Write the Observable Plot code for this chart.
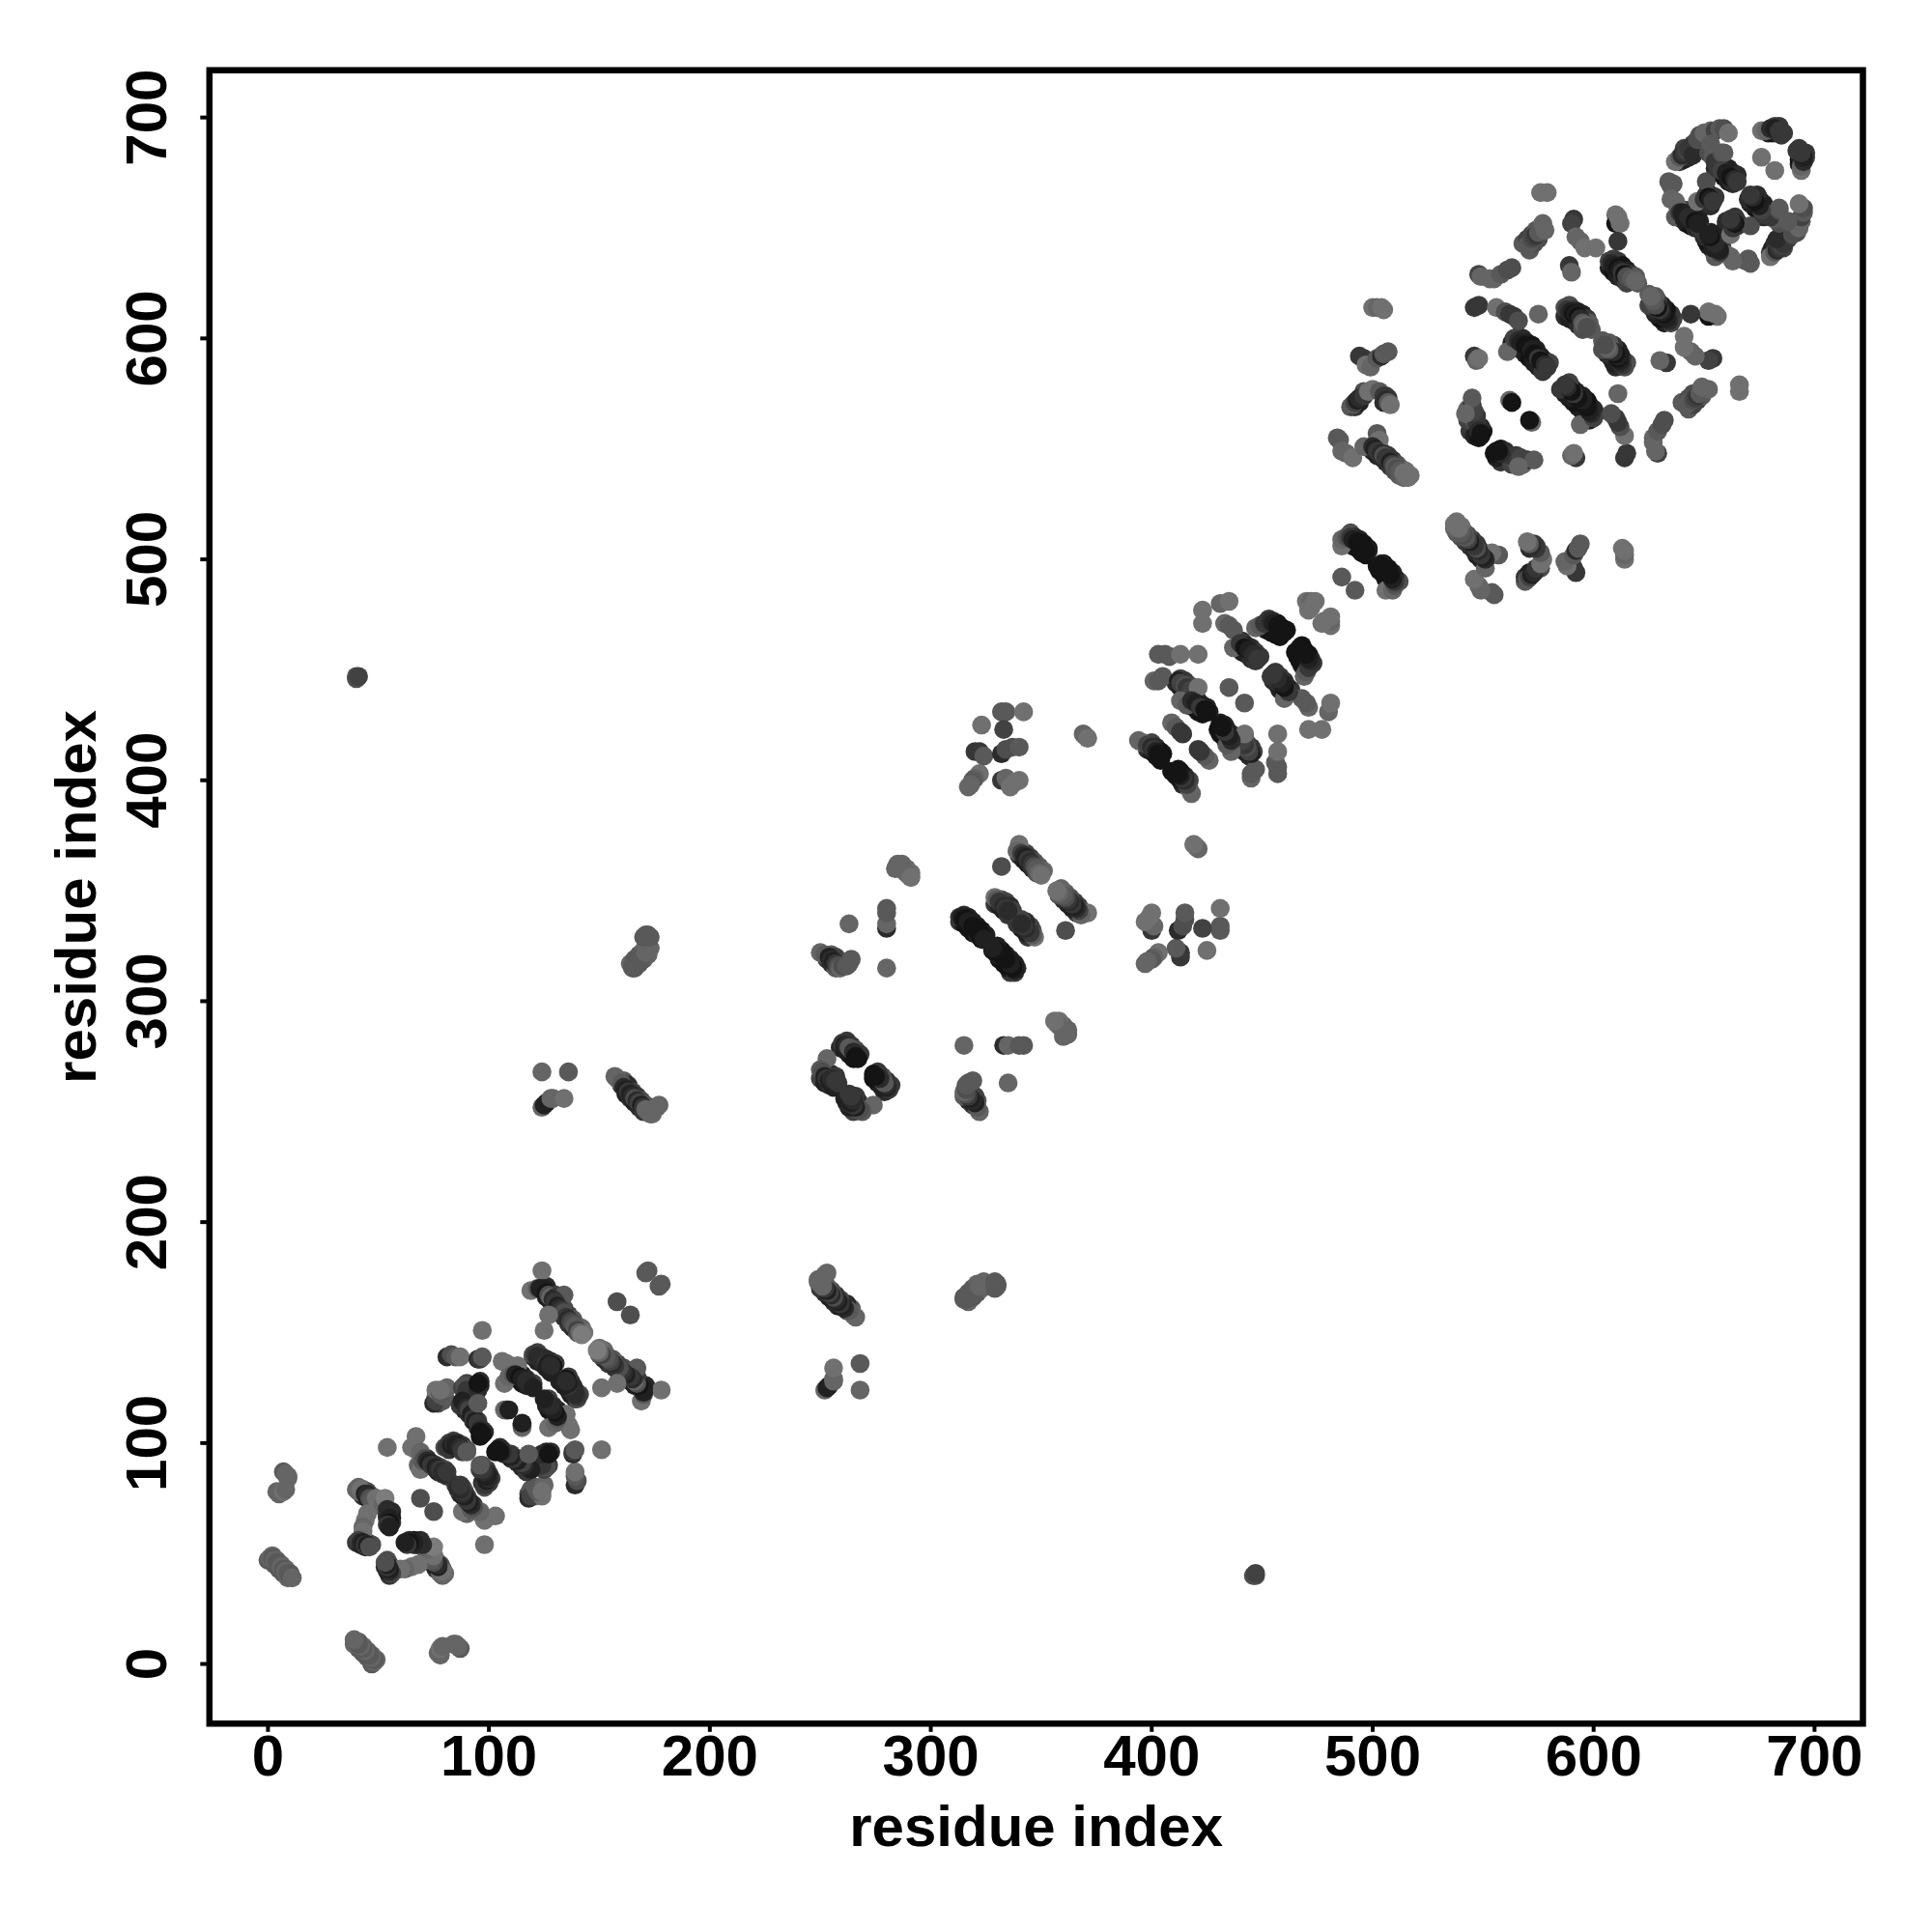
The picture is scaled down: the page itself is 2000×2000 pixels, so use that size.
<!DOCTYPE html>
<html>
<head>
<meta charset="utf-8">
<script src="https://cdn.jsdelivr.net/npm/d3@7"></script>
<script src="https://cdn.jsdelivr.net/npm/@observablehq/plot@0.6"></script>
<style>html,body{margin:0;padding:0;background:#fff}svg{display:block}</style>
</head>
<body>
<div id="chart"></div>
<script>
// Contacts as [residue i, residue j, shade], i < j; 0 = darkest, 9 = lightest.
// Neighbouring parallel contacts that widen each strand are listed first so the strand cores lie over them.
const neighbours01 = [[2,49,7],[4,47,7],[6,45,7],[8,43,7],[10,41,6],[0,47,6],[3,45,6],[5,43,6],[7,41,6],[9,39,7],
 [41,80,7],[43,79,7],[45,78,5],[47,76,6],[43,76,3],[45,75,1],[53,70,5],[54,66,3],[56,69,2],[56,66,0],[56,64,2],[54,67,2],
 [40,55,3],[42,54,1],[44,53,2],[43,56,4],[45,55,3],[47,54,5],
 [71,91,3],[73,90,2],[75,89,1],[77,87,1],[79,86,3],[72,93,2],[74,91,2],[76,90,3],[78,89,4],[80,88,5],[81,85,3],
 [82,97,3],[84,98,1],[86,98,2],[88,96,4],[82,100,3],[84,101,4],[86,100,2],[88,99,3],[90,97,5]];
const neighbours02 = [[87,118,2],[89,115,1],[91,113,2],[93,110,1],[95,107,2],[96,103,0],[89,120,3],[91,117,3],[93,113,3],[95,110,4],[97,106,2],[98,105,2],
 [77,118,5],[79,119,6],[76,121,8],[90,127,4],[93,125,1],[94,126,0],[96,128,2],[96,126,1],
 [111,130,1],[113,129,1],[115,127,0],[117,126,1],[113,132,2],[115,131,1],[117,129,2],[119,127,3],[120,127,4],
 [120,139,2],[122,137,1],[124,136,1],[126,135,0],[128,134,0],[122,141,4],[124,139,3],[126,138,2],[128,137,2],[130,136,3],
 [124,169,1],[126,166,1],[128,164,1],[130,162,2],[132,160,1],[134,157,2],[136,154,3],[138,152,2],[140,150,6],[126,171,2],[128,168,2],[130,167,4],[132,163,3],[134,161,5],[136,158,4],[138,156,6],[140,153,5],[142,152,7],[143,150,8]];
const neighbours03 = [[160,262,2],[162,258,1],[164,256,2],[166,254,1],[168,252,2],[170,250,3],[161,264,6],[163,262,2],[165,259,4],[167,257,3],[169,255,5],[171,253,6],
 [166,315,6],[168,317,6],[170,319,6],[172,321,7],[164,317,7],[166,319,6],[168,321,6],[170,323,7],
 [250,265,4],[252,263,1],[254,262,2],[256,261,1],[253,267,3],[255,267,2],[257,266,3],[258,263,3],
 [259,279,2],[261,278,1],[263,276,1],[265,274,0],[262,282,3],[264,280,3],[266,278,5],[268,276,3],
 [253,319,3],[255,317,2],[257,315,6],[255,321,6],[257,320,4],[287,362,7],[289,360,7],[291,358,8],[284,360,7]];
const neighbours04 = [[340,366,3],[342,364,1],[344,362,1],[346,360,2],[348,358,5],[343,367,4],[345,365,3],[347,363,5],[349,361,6],[351,359,7],
 [329,344,3],[331,343,1],[333,341,1],[335,339,3],[332,346,5],[334,345,4],[336,343,2],[337,341,4],
 [313,336,3],[315,335,0],[317,333,0],[319,331,0],[321,330,1],[323,328,0],[315,339,2],[317,338,1],[319,336,1],[321,334,1],[323,332,0],[325,330,1],
 [411,444,2],[413,442,1],[415,441,2],[417,440,3],[413,446,4],[415,445,3],[417,443,4],[419,442,5],
 [417,434,2],[419,433,0],[421,431,0],[423,430,0],[419,437,3],[421,436,2],[423,434,1],[425,433,1],[426,431,1],
 [398,414,2],[400,413,1],[402,411,0],[404,409,0],[400,417,4],[402,415,2],[404,413,0],[405,412,0]];
const neighbours05 = [[439,460,2],[441,458,1],[443,457,1],[445,455,2],[447,454,3],[441,463,3],[443,461,1],[445,460,2],[447,458,3],[449,456,3],
 [450,470,3],[452,468,1],[454,467,0],[456,466,0],[458,465,0],[453,473,3],[455,472,2],[457,471,0],[459,469,0],[461,468,0],
 [500,549,2],[502,547,1],[504,546,2],[506,544,2],[508,542,3],[510,540,5],[512,538,6],[514,537,7],[501,552,4],[503,550,3],[505,548,4],[507,547,3],[509,545,3],[511,543,5],[513,541,6],[515,540,8],[517,538,8],
 [489,508,2],[491,506,0],[493,505,0],[495,503,0],[497,502,0],[490,512,5],[492,510,2],[494,509,1],[496,507,0],[498,505,0],[498,504,1],
 [490,569,6],[492,569,3],[494,571,1],[506,574,3],[507,573,3],[505,571,2],[496,576,5]];
const neighbours06 = [[544,558,3],[546,556,1],[548,555,0],[550,558,0],[549,560,2],[547,565,3],[543,563,4],[544,567,2],
 [563,598,1],[565,596,0],[567,595,0],[569,593,1],[571,591,0],[573,589,1],[575,587,1],[577,585,3],[566,601,3],[568,600,2],[570,598,1],[572,597,0],[574,595,1],[576,592,1],[578,590,1],[580,589,4],
 [587,610,2],[589,609,1],[591,608,1],[593,606,2],[595,604,5],[589,615,5],[591,613,3],[593,612,1],[595,611,1],[597,609,3],[598,607,6],[599,604,6],
 [607,632,1],[609,630,0],[611,628,1],[613,627,2],[615,625,4],[609,636,4],[611,635,3],[613,633,0],[615,631,1],[617,629,3],[619,628,6],[620,625,6],
 [568,643,6],[570,645,4],[572,647,4],[574,649,6],[571,640,6],[573,643,5],[575,645,5]];
const neighbours07 = [[640,654,1],[642,652,1],[644,651,0],[646,650,2],[642,658,3],[644,656,1],[646,655,0],[648,653,1],[648,650,3],
 [649,661,2],[651,660,1],[653,660,2],[651,665,3],[653,665,2],[655,664,3],
 [655,677,2],[657,675,1],[659,673,0],[661,671,1],[663,670,2],[657,680,4],[659,678,3],[661,677,1],[663,675,1],[665,674,2],
 [639,680,3],[641,681,1],[643,682,2],[641,686,4],[643,684,3],[645,686,4],[645,688,4],[647,687,4],
 [679,693,1],[681,693,0],[683,693,1],[685,692,3],[682,696,4],[684,696,3]];

const contacts01 = [[1,48,7],[2,48,6],[3,47,7],[4,46,6],[5,45,6],[6,44,7],[7,43,6],[8,42,7],[9,41,6],[10,40,6],[11,39,7],
 [7,87,6],[8,86,7],[9,85,7],[9,84,7],[4,78,7],[5,77,7],[6,78,7],[7,78,8],[8,79,7]];
const contacts02 = [[40,79,7],[41,78,7],[42,79,8],[44,77,1],[45,77,2],[46,75,5],[47,74,6],[49,75,8],[50,73,8],[52,72,7],[53,75,9],
 [45,68,8],[44,65,8],[43,62,7],[43,60,8],[54,70,2],[55,68,2],[55,66,1],[55,64,0],[54,63,3],[55,62,1],
 [41,56,4],[42,55,2],[43,55,1],[44,54,3],[45,54,1],[46,53,5]];
const contacts03 = [[54,98,8],[67,103,8],[65,98,8],[67,97,8],[69,96,7],[68,90,7],[69,89,6],[69,88,8],[70,92,6],[71,93,5],[72,92,2],[73,91,1],[74,90,3],[76,89,1],[77,88,2],[78,88,3],[79,87,2],[80,86,2],[81,87,3],
 [80,98,5],[81,98,3],[83,99,1],[84,100,2],[85,99,1],[86,99,1],[87,98,2],[88,97,3],[90,96,6],[69,75,5]];
const contacts04 = [[97,151,8],[81,139,2],[83,140,5],[85,139,6],[87,139,8],[95,138,2],[96,138,3],[97,139,6],
 [75,118,2],[76,119,4],[76,124,8],[78,122,6],[80,121,6],[81,125,7],[78,124,8],
 [88,125,4],[89,126,5],[90,124,3],[95,124,2],[95,127,0],
 [87,117,3],[88,119,1],[90,116,2],[91,115,4],[92,113,1],[93,111,3],[94,110,1],[95,118,6],[95,109,3],[96,106,2],[96,105,0],[97,104,0]];
const contacts05 = [[106,137,8],[108,136,8],[113,135,8],[107,127,8],[109,130,7],[111,131,6],[112,131,1],[114,130,0],[115,129,1],[117,128,2],[119,126,3],
 [107,115,8],[108,115,1],[115,108,7],[115,109,1],[118,127,2],[120,125,1],
 [120,140,5],[121,140,3],[122,139,2],[123,138,2],[124,137,2],[126,136,3],[127,136,1],[129,135,0],[126,134,1],[128,132,1],[128,135,2]];
const contacts06 = [[119,169,8],[124,178,8],[122,170,6],[123,170,1],[125,170,1],[126,168,0],[127,167,5],[128,166,7],[130,166,3],[134,167,6],[129,165,2],[130,164,3],[131,162,1],[132,161,2],[133,160,3],[134,159,5],[135,157,3],[136,156,2],[137,155,4],[138,154,5],[139,153,6],[140,151,4],[141,150,7],[142,149,9],[127,158,8],[125,151,8],
 [158,164,5],[171,177,6],[172,178,6]];
const contacts07 = [[165,315,6],[165,316,6],[166,317,6],[167,318,6],[168,319,6],[169,320,6],[170,321,6],[171,322,7],[172,323,7],[173,324,7],[170,329,6],[171,330,6],[172,330,6],[173,329,6],
 [124,268,7],[136,268,6],[124,252,7],[125,253,1],[126,254,1],[128,256,7],[129,256,7],[134,256,8],
 [157,266,7],[158,265,7],[159,264,7],[160,263,6],[161,261,2],[162,260,1],[163,259,3],[164,258,1],[165,257,2],[166,256,5],[167,255,2],[168,254,4],[169,253,1],[170,252,3],[171,251,7],[172,250,7],[173,249,7],[174,249,7],[176,252,7],[177,253,7]];
const contacts08 = [[253,274,7],[250,269,6],[251,268,5],[252,266,1],[253,265,3],[254,264,1],[255,265,2],[256,264,2],[257,264,3],
 [260,281,3],[261,280,1],[262,280,2],[263,279,6],[264,278,6],[265,277,2],[266,275,0],[267,274,0],
 [250,322,7],[252,321,6],[254,320,1],[255,319,2],[256,318,1],[257,317,3],[258,316,5],[259,315,7],[260,316,5],[262,316,6],[263,317,6],[264,319,6],[263,335,7],
 [280,333,2],[280,335,7],[280,340,6],[280,342,6],[280,315,7],
 [285,362,7],[286,361,7],[287,360,7],[288,359,7],[289,358,7],[290,357,7],[291,356,8]];
const contacts09 = [[340,371,8],[339,368,7],[341,367,4],[342,366,2],[343,365,1],[344,364,3],[345,363,2],[346,362,3],[347,361,5],[348,360,6],[349,358,7],[350,357,8],[332,361,5],
 [329,347,8],[330,346,6],[331,345,3],[332,344,3],[333,343,2],[334,342,3],[335,341,2],
 [313,338,3],[314,338,1],[315,337,0],[316,337,0],[317,336,1],[318,335,1],[319,334,0],[320,333,0],[321,332,0],[322,331,0],[323,330,0],[324,328,1],
 [332,431,6],[334,431,6],[342,431,8],[323,425,8],[333,423,4],[320,413,3],[322,413,3],[324,411,6],[332,412,2],[334,414,5],[337,415,5],[340,415,6],[322,403,8],[320,401,7],[319,400,6],[318,398,7],[317,397,7],[332,400,3],[334,401,7],[336,397,8],[338,399,8],[340,400,8],
 [369,421,7],[370,420,7],[371,419,8]];
const contacts10 = [[423,477,8],[423,471,8],[431,480,7],[435,481,8],[433,471,7],[435,470,6],[437,468,6],[437,460,7],[440,462,3],[442,460,0],[444,459,1],[446,457,2],[448,455,3],
 [447,469,7],[449,470,6],[451,471,3],[454,472,2],[455,471,1],[457,470,0],[459,468,0],[460,467,0],
 [403,457,6],[406,457,6],[408,456,6],[413,457,8],[421,457,8],
 [401,445,7],[403,445,6],[405,447,6],[412,445,1],[413,444,4],[415,443,5],[416,442,3],[418,441,4],[421,442,8],[435,442,6],
 [413,436,7],[416,434,6],[418,436,2],[420,435,1],[422,433,3],[424,432,0],[425,431,0],
 [409,426,7],[411,424,6],[413,422,3],[414,421,3],
 [394,418,7],[396,417,7],[398,416,4],[400,415,2],[401,414,3],[402,413,1],[403,412,0],[404,411,0],
 [470,481,8],[472,481,7],[474,481,8],[472,478,8],[471,477,8],[486,492,6],[40,446,5],[40,447,5],[41,447,4]];
const contacts11 = [[500,614,8],[502,614,7],[504,614,8],[505,613,8],
 [494,592,3],[496,591,3],[497,588,8],[499,587,7],[502,591,6],[504,592,2],[505,593,6],[507,594,6],
 [491,570,6],[492,571,4],[493,572,1],[494,573,2],[496,574,3],[498,576,8],[500,577,8],[503,576,6],[505,574,3],[506,572,2],[507,571,6],[508,570,8],
 [484,555,6],[485,554,6],[486,549,7],[488,548,7],[491,546,8],[496,551,7],
 [502,557,6],[503,554,8],[500,551,2],[501,550,1],[502,549,3],[504,548,2],[505,547,5],[506,546,3],[508,544,1],[509,543,4],[510,542,6],[511,541,5],[512,540,6],[514,539,8],[515,538,8],[516,537,8],
 [486,506,8],[486,509,7],[488,510,6],[489,510,5],[490,510,3],[491,509,1],[493,508,0],[494,507,0],[495,506,0],[496,505,0],[497,504,0]];
const contacts12 = [[546,563,6],[547,562,3],[548,558,2],[549,557,0],[549,556,0],[543,568,7],[545,570,2],[546,567,4],[545,573,6],[542,566,7],
 [562,572,7],[563,571,0],[546,592,3],[547,590,7],[548,591,8],
 [546,614,3],[548,615,3],[556,614,8],[560,612,5],[562,611,3],[564,610,3],[566,608,5],[575,611,7],
 [548,629,4],[549,628,7],[553,627,7],[555,627,7],[558,629,6],[561,631,5],[563,632,5],
 [561,594,7],[564,600,4],[566,599,2],[567,598,1],[569,597,0],[570,596,0],[572,595,1],[573,593,0],[575,591,3],[576,590,0],[578,588,2],[579,587,3]];
const contacts13 = [[570,642,6],[571,643,6],[572,645,5],[573,646,4],[574,647,3],[575,648,6],[576,650,6],[577,652,7],[578,649,7],[576,666,8],[579,666,8],
 [591,654,3],[590,652,4],[592,646,7],[594,644,7],[596,641,8],[601,641,8],[589,633,3],[590,630,7],
 [607,635,4],[608,634,2],[609,633,1],[611,632,0],[612,631,1],[613,630,3],[614,629,0],[615,628,5],[617,627,6],[619,626,7],
 [610,656,8],[610,652,0],[611,655,8],[612,652,8],[611,644,3],
 [587,614,5],[588,613,3],[589,612,2],[590,612,1],[591,611,0],[592,611,1],[593,610,0],[594,609,2],[595,607,6],[596,606,7],[597,605,5]];
const contacts14 = [[634,671,6],[636,670,6],[635,669,6],[635,663,7],[637,662,7],[638,660,7],[637,655,6],[639,657,3],[640,657,1],[641,654,1],[643,655,2],[645,654,2],[646,653,0],[647,652,1],[647,662,8],
 [651,671,5],[650,663,3],[652,664,0],[653,663,1],[654,662,3],
 [637,680,8],[639,682,6],[640,683,2],[641,684,3],[642,685,4],[643,686,3],[645,683,2],[647,690,5],[648,692,5],[650,693,7],[653,694,7],[655,694,4],[657,695,6],[659,695,5],[661,693,8],
 [652,684,5],[654,682,6],[655,680,3],[656,677,3],[658,684,5],[659,684,6],[658,676,4],[660,675,1],[662,673,0],[664,672,2],[665,671,3],
 [676,694,8],[678,694,7],[680,695,2],[682,695,1],[684,694,3],[686,693,3],[676,682,8],[653,688,6]];

const tickValues = [0, 100, 200, 300, 400, 500, 600, 700];
const axisLabel = "residue index";
const contactGroups = [neighbours01, neighbours02, neighbours03, neighbours04, neighbours05, neighbours06, neighbours07,
  contacts01, contacts02, contacts03, contacts04, contacts05, contacts06, contacts07, contacts08, contacts09, contacts10, contacts11, contacts12, contacts13, contacts14];

// The contact map is symmetric, so each contact appears as (i, j) and (j, i).
const rows = contactGroups.flat().flatMap(([i, j, shade]) => [{x: i, y: j, shade}, {x: j, y: i, shade}]);

const font = "'Liberation Sans', Arial, Helvetica, sans-serif";
const chart = Plot.plot({
  width: 2000,
  height: 2000,
  marginLeft: 216.3,
  marginRight: 72,
  marginTop: 72.2,
  marginBottom: 216.2,
  style: {background: "#fff", fontFamily: font},
  x: {domain: [-26.5, 721.9]},
  y: {domain: [-27, 721.4]},
  color: {type: "linear", domain: [0, 9], range: ["#141414", "#7c7c7c"]},
  marks: [
    Plot.dot(rows, {x: "x", y: "y", r: 9.8, fill: "shade"}),
    Plot.axisX({ticks: tickValues, tickFormat: d => String(d), tickSize: 9, tickPadding: 2.5, strokeWidth: 4,
      fontSize: 60, fontWeight: "bold", fontFamily: font, label: axisLabel, labelAnchor: "center", labelArrow: "none", labelOffset: 127}),
    Plot.axisY({ticks: tickValues, tickFormat: d => String(d), tickSize: 9, tickPadding: 36, tickRotate: -90, strokeWidth: 4,
      fontSize: 60, fontWeight: "bold", fontFamily: font, label: axisLabel, labelAnchor: "center", labelArrow: "none", labelOffset: 160}),
    Plot.frame({stroke: "#000", strokeWidth: 6.5})
  ]
});
document.getElementById("chart").append(chart);
</script>
</body>
</html>
